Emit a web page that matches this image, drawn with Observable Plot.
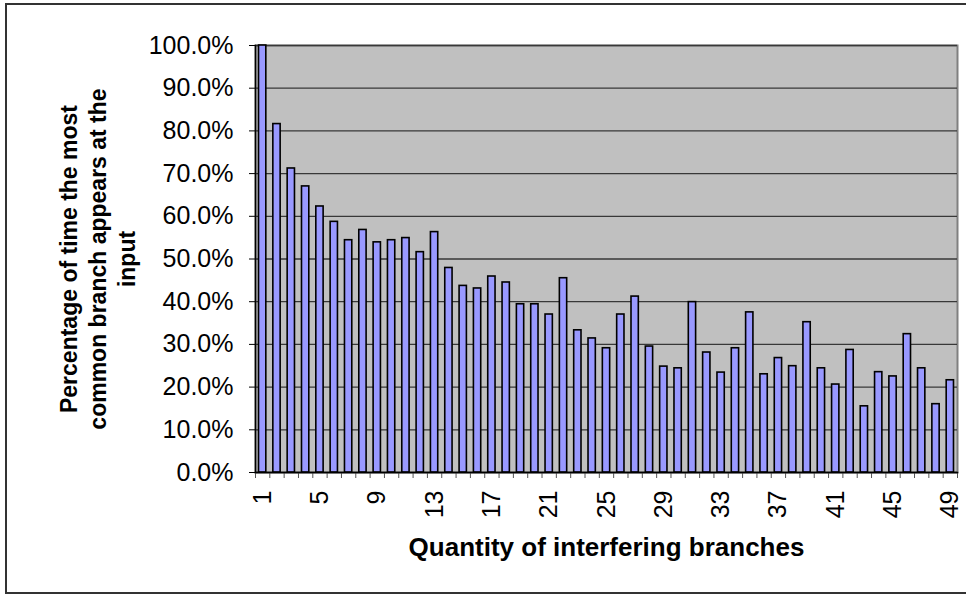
<!DOCTYPE html>
<html>
<head>
<meta charset="utf-8">
<script src="https://cdn.jsdelivr.net/npm/d3@7"></script>
<script src="https://cdn.jsdelivr.net/npm/@observablehq/plot@0.6"></script>
<style>
  html, body { margin: 0; padding: 0; background: #fff; }
  #chart svg { display: block; }
</style>
</head>
<body>
<div id="chart"></div>
<script>
// Number of interfering branches (category axis)
const quantities = d3.range(1, 50);

// Percentage of time the most common branch appears at the input
const percentages = [
  100.0, 81.6, 71.2, 67.0, 62.3, 58.7, 54.4, 56.8, 53.9, 54.4,
  54.9, 51.6, 56.3, 47.9, 43.7, 43.1, 45.9, 44.5, 39.4, 39.4,
  37.0, 45.5, 33.3, 31.4, 29.1, 37.0, 41.2, 29.5, 24.8, 24.4,
  39.9, 28.1, 23.4, 29.1, 37.5, 23.0, 26.8, 24.9, 35.2, 24.4,
  20.6, 28.7, 15.5, 23.5, 22.5, 32.4, 24.4, 16.0, 21.6
];

// Category labels shown on the x axis (every fourth)
const xTickLabels = [1, 5, 9, 13, 17, 21, 25, 29, 33, 37, 41, 45, 49];

// Y axis tick values (percent)
const yTicks = d3.range(0, 101, 10);

const xTitle = "Quantity of interfering branches";
const yTitle = "Percentage of time the most\ncommon branch appears at the\ninput";

const data = quantities.map((q, i) => ({q, p: percentages[i]}));

const W = 966, H = 594;
const mL = 255, mR = 9, mT = 45, mB = 122;
const step = (W - mL - mR) / quantities.length;

const font = "Arial, 'Liberation Sans', sans-serif";

const chart = Plot.plot({
  width: W,
  height: H,
  marginLeft: mL,
  marginRight: mR,
  marginTop: mT,
  marginBottom: mB,
  style: {fontFamily: font, fontSize: "25px", color: "#000", background: "#fff"},
  x: {type: "band", domain: quantities, paddingInner: 0.49, paddingOuter: 0.245, round: false},
  y: {domain: [0, 100]},
  marks: [
    // plot area background and border
    Plot.frame({fill: "#C0C0C0", stroke: "#808080", strokeWidth: 2}),
    Plot.gridY(yTicks, {stroke: "#383838", strokeOpacity: 1, strokeWidth: 1.3}),
    Plot.barY(data, {x: "q", y: "p", fill: "#9999FF", stroke: "#000", strokeWidth: 1.6}),
    // y axis
    Plot.axisY({
      ticks: yTicks, tickSize: 6, tickPadding: 16,
      tickFormat: d => d.toFixed(1) + "%", label: null,
      stroke: "#000", fontSize: 25
    }),
    Plot.frame({anchor: "left", stroke: "#000", strokeWidth: 1.5}),
    // x axis: tick marks at category boundaries
    Plot.axisX({ticks: quantities, tickSize: 6, tickFormat: () => "", dx: -step / 2, label: null, stroke: "#555"}),
    Plot.axisX({ticks: [quantities[quantities.length - 1]], tickSize: 6, tickFormat: () => "", dx: step / 2, label: null, stroke: "#555"}),
    Plot.axisX({
      ticks: xTickLabels, tickSize: 0, tickPadding: 18, tickRotate: -90,
      tickFormat: d => String(d), label: null, fontSize: 25
    }),
    Plot.frame({anchor: "bottom", stroke: "#000", strokeWidth: 1.5}),
    // axis titles
    Plot.text([xTitle], {
      text: d => d, frameAnchor: "bottom", dy: 75, lineAnchor: "middle",
      fontSize: 26, fontWeight: "bold", fill: "#000"
    }),
    Plot.text([yTitle], {
      text: d => d, frameAnchor: "left", dx: -159, rotate: -90,
      textAnchor: "middle", lineAnchor: "middle", lineHeight: 1.26,
      fontSize: 23, fontWeight: "bold", fill: "#000"
    })
  ]
});

// outer chart border
d3.select(chart).append("rect")
  .attr("x", 6).attr("y", 4)
  .attr("width", W + 10).attr("height", H - 4 - 1)
  .attr("fill", "none").attr("stroke", "#333").attr("stroke-width", 2);

document.getElementById("chart").appendChild(chart);
</script>
</body>
</html>
